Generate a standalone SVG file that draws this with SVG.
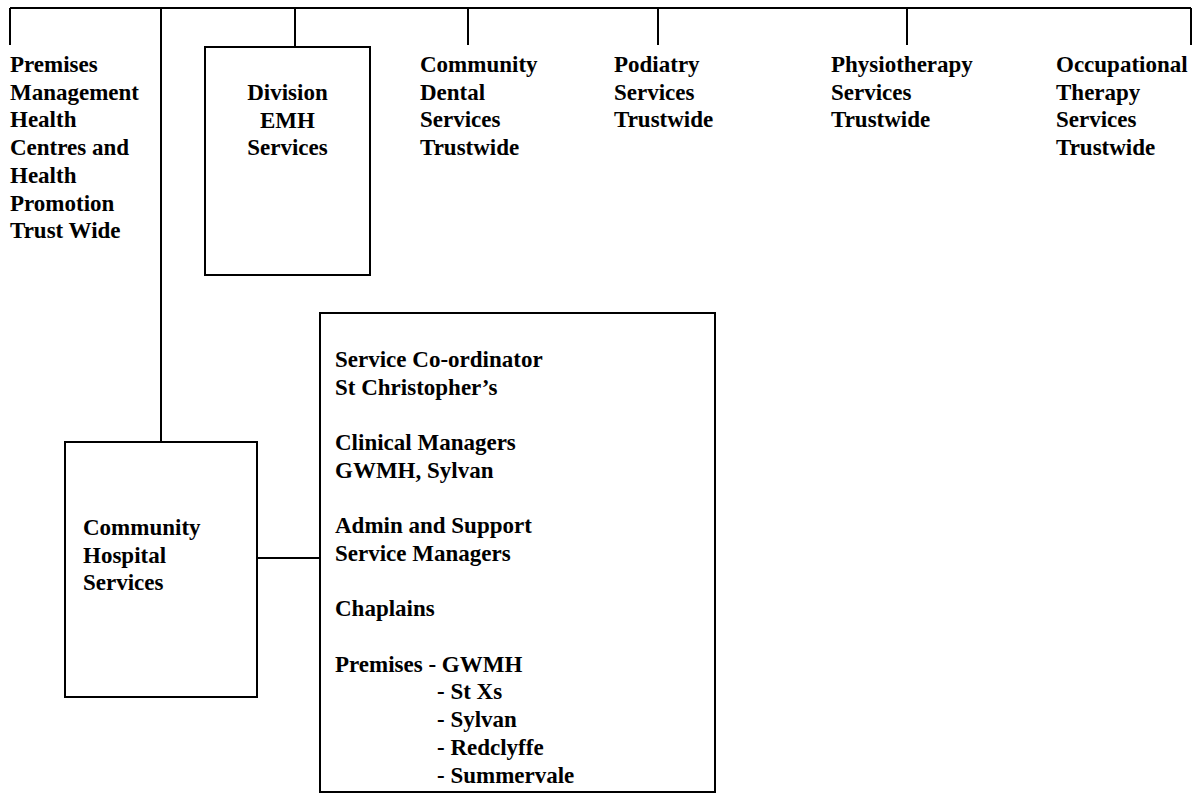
<svg xmlns="http://www.w3.org/2000/svg" width="1198" height="796" viewBox="0 0 1198 796">
<style>
.t{font-family:'Liberation Serif','Times New Roman','DejaVu Serif',serif;font-weight:bold;font-size:23px;fill:#000}
.c{text-anchor:middle}
.b{fill:#fff;stroke:#000;stroke-width:2}
.l{stroke:#000;stroke-width:2;fill:none}
</style>
<rect width="1198" height="796" fill="#fff"/>
<g id="connectors">
<path class="l" d="M10,8 H1191 M10,8 V45 M161,8 V442 M295,8 V47 M468,8 V45 M658,8 V45 M907,8 V45 M1191,8 V45 M257,558 H320"/>
</g>
<g id="premises-management">
<text class="t" x="10" y="72">Premises</text>
<text class="t" x="10" y="99.7">Management</text>
<text class="t" x="10" y="127.4">Health</text>
<text class="t" x="10" y="155.1">Centres and</text>
<text class="t" x="10" y="182.8">Health</text>
<text class="t" x="10" y="210.5">Promotion</text>
<text class="t" x="10" y="238.2">Trust Wide</text>
</g>
<g id="division-emh">
<rect class="b" x="205" y="47" width="165" height="228"/>
<text class="t c" x="287.5" y="100">Division</text>
<text class="t c" x="287.5" y="127.7">EMH</text>
<text class="t c" x="287.5" y="155.4">Services</text>
</g>
<g id="community-dental">
<text class="t" x="420" y="72">Community</text>
<text class="t" x="420" y="99.7">Dental</text>
<text class="t" x="420" y="127.4">Services</text>
<text class="t" x="420" y="155.1">Trustwide</text>
</g>
<g id="podiatry">
<text class="t" x="614" y="72">Podiatry</text>
<text class="t" x="614" y="99.7">Services</text>
<text class="t" x="614" y="127.4">Trustwide</text>
</g>
<g id="physiotherapy">
<text class="t" x="831" y="72">Physiotherapy</text>
<text class="t" x="831" y="99.7">Services</text>
<text class="t" x="831" y="127.4">Trustwide</text>
</g>
<g id="occupational-therapy">
<text class="t" x="1056" y="72">Occupational</text>
<text class="t" x="1056" y="99.7">Therapy</text>
<text class="t" x="1056" y="127.4">Services</text>
<text class="t" x="1056" y="155.1">Trustwide</text>
</g>
<g id="community-hospital">
<rect class="b" x="65" y="442" width="192" height="255"/>
<text class="t" x="83" y="535">Community</text>
<text class="t" x="83" y="562.7">Hospital</text>
<text class="t" x="83" y="590.4">Services</text>
</g>
<g id="hospital-details">
<rect class="b" x="320" y="313" width="395" height="479"/>
<text class="t" x="335" y="367">Service Co-ordinator</text>
<text class="t" x="335" y="394.7">St Christopher’s</text>
<text class="t" x="335" y="450.1">Clinical Managers</text>
<text class="t" x="335" y="477.8">GWMH, Sylvan</text>
<text class="t" x="335" y="533.2">Admin and Support</text>
<text class="t" x="335" y="560.9">Service Managers</text>
<text class="t" x="335" y="616.3">Chaplains</text>
<text class="t" x="335" y="671.7">Premises - GWMH</text>
<text class="t" x="437" y="699.4">- St Xs</text>
<text class="t" x="437" y="727.1">- Sylvan</text>
<text class="t" x="437" y="754.8">- Redclyffe</text>
<text class="t" x="437" y="782.5">- Summervale</text>
</g>
</svg>
